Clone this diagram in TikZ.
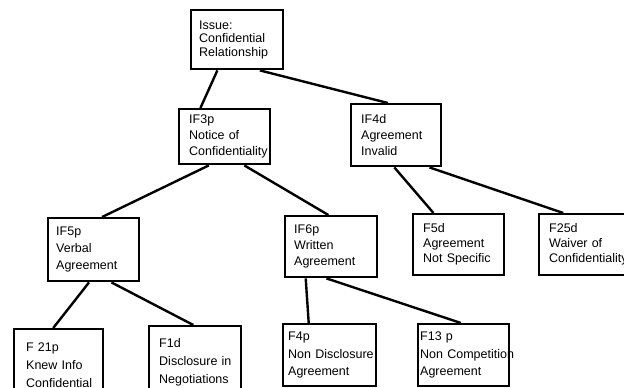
\documentclass[tikz,border=0pt]{standalone}
\usepackage{fontspec}
\setmainfont{Liberation Sans}
\usetikzlibrary{calc}

\tikzset{
  factbox/.style={draw=black, line width=2.4pt, anchor=north west, align=left,
    inner sep=0pt, font=\fontsize{12.5}{16}\selectfont,
    execute at begin node={\hyphenpenalty=10000\exhyphenpenalty=10000}},
  link/.style={draw=black, line width=2.4pt}
}

\begin{document}
\begin{tikzpicture}[x=1pt, y=-1pt]
		\clip (0,0) rectangle (624,388);
		\node[factbox, minimum width=92pt, minimum height=59pt, text width=76pt,
		      font=\fontsize{12.5}{13.5}\selectfont] (issue) at (190,9)
		      {Issue:\\Confidential\\Relationship};
		\node[factbox, minimum width=91pt, minimum height=55pt, text width=71pt] (if3) at (178,108)
		      {IF3p\\Notice~of\\Confidentiality};
		\node[factbox, minimum width=90pt, minimum height=62pt, text width=70pt] (if4) at (350,103)
		      {IF4d\\Agreement\\Invalid};
		\node[factbox, minimum width=91pt, minimum height=63pt, text width=75pt,
		      font=\fontsize{12.5}{17}\selectfont] (if5) at (47,217)
		      {IF5p\\Verbal\\Agreement};
		\node[factbox, minimum width=92pt, minimum height=61pt, text width=74pt] (if6) at (284,215)
		      {IF6p\\Written\\Agreement};
		\node[factbox, minimum width=91pt, minimum height=61pt, text width=71pt,
		      font=\fontsize{12.5}{15}\selectfont] (f5) at (412,213)
		      {F5d\\Agreement\\Not~Specific};
		\node[factbox, minimum width=91pt, minimum height=61pt, text width=71pt,
		      font=\fontsize{12.5}{15}\selectfont] (f25) at (538,213)
		      {F25d\\Waiver~of\\Confidentiality};
		\node[factbox, minimum width=89pt, minimum height=72pt, text width=65pt,
		      font=\fontsize{12.5}{18}\selectfont] (f21) at (13,328)
		      {F~21p\\Knew~Info\\Confidential};
		\node[factbox, minimum width=92pt, minimum height=72pt, text width=72pt,
		      font=\fontsize{12.5}{18}\selectfont] (f1) at (148,325)
		      {F1d\\Disclosure~in\\Negotiations};
		\node[factbox, minimum width=93pt, minimum height=62pt, text width=83pt,
		      font=\fontsize{12.5}{17.5}\selectfont] (f4) at (282,323)
		      {F4p\\Non~Disclosure\\Agreement};
		\node[factbox, minimum width=91pt, minimum height=62pt, text width=87pt,
		      font=\fontsize{12.5}{17.5}\selectfont] (f13) at (417,323)
		      {F13~p\\Non~Competition\\Agreement};
		\path[link]
		($(issue.south west)!.29!(issue.south east)$) edge ($(if3.north west)!.24!(if3.north east)$)
		($(issue.south west)!.74!(issue.south east)$) edge ($(if4.north west)!.41!(if4.north east)$)
		($(if3.south west)!.33!(if3.south east)$) edge ($(if5.north west)!.59!(if5.north east)$)
		($(if3.south west)!.71!(if3.south east)$) edge ($(if6.north west)!.47!(if6.north east)$)
		($(if4.south west)!.48!(if4.south east)$) edge ($(f5.north west)!.23!(f5.north east)$)
		($(if4.south west)!.86!(if4.south east)$) edge ($(f25.north west)!.27!(f25.north east)$)
		($(if5.south west)!.45!(if5.south east)$) edge ($(f21.north west)!.44!(f21.north east)$)
		($(if5.south west)!.69!(if5.south east)$) edge ($(f1.north west)!.48!(f1.north east)$)
		($(if6.south west)!.23!(if6.south east)$) edge ($(f4.north west)!.28!(f4.north east)$)
		($(if6.south west)!.45!(if6.south east)$) edge ($(f13.north west)!.47!(f13.north east)$);
	\end{tikzpicture}
\end{document}
